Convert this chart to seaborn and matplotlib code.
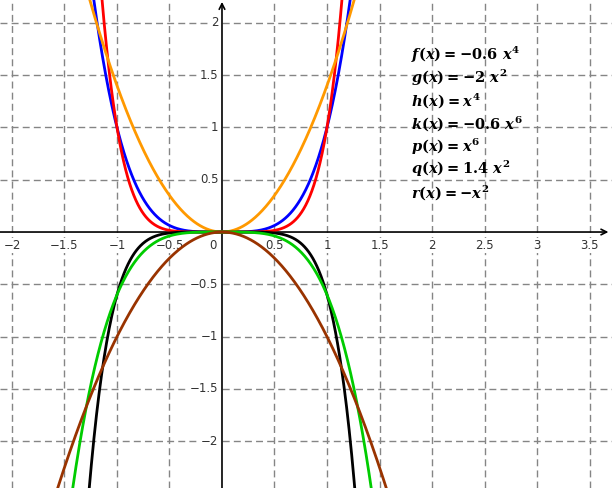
import numpy as np
import pandas as pd
import matplotlib
matplotlib.use("Agg")
import matplotlib.pyplot as plt
import seaborn as sns

# function definitions: coefficient, exponent, colour
names = ["h", "p", "q", "k", "f", "r"]
coefs = [1.0, 1.0, 1.4, -0.6, -0.6, -1.0]
powers = [4, 6, 2, 6, 4, 2]
colors = ["#0000ff", "#ff0000", "#ff9900", "#000000", "#00cc00", "#993300"]

# legend text (g is listed but not drawn)
labels = [
    r"$f(x) = -0.6\ x^4$",
    r"$g(x) = -2\ x^2$",
    r"$h(x) = x^4$",
    r"$k(x) = -0.6\ x^6$",
    r"$p(x) = x^6$",
    r"$q(x) = 1.4\ x^2$",
    r"$r(x) = -x^2$",
]

x_ticks = [-2, -1.5, -1, -0.5, 0.5, 1, 1.5, 2, 2.5, 3, 3.5]
y_ticks = [-2, -1.5, -1, -0.5, 0.5, 1, 1.5, 2]

xmin, xmax = -2.114, 3.714
ymin, ymax = -2.447, 2.218

sns.set_style("white")
plt.rcParams["font.family"] = ["DejaVu Sans"]
plt.rcParams["mathtext.fontset"] = "custom"
plt.rcParams["mathtext.rm"] = "DejaVu Serif:bold"
plt.rcParams["mathtext.it"] = "DejaVu Serif:italic:bold"
plt.rcParams["mathtext.bf"] = "DejaVu Serif:bold"

fig = plt.figure(figsize=(6.12, 4.88), dpi=100)
ax = fig.add_axes([0, 0, 1, 1])

# grid
for v in x_ticks:
    ax.axvline(v, color="#858585", lw=1, ls=(0, (5, 3)), zorder=0)
for v in y_ticks:
    ax.axhline(v, color="#858585", lw=1, ls=(0, (5, 3)), zorder=0)

# axes with arrows
ax.annotate("", xy=(3.68, 0), xytext=(xmin, 0),
            arrowprops=dict(arrowstyle="->", lw=1.2, color="black",
                            shrinkA=0, shrinkB=0), zorder=1)
ax.annotate("", xy=(0, 2.2), xytext=(0, ymin),
            arrowprops=dict(arrowstyle="->", lw=1.2, color="black",
                            shrinkA=0, shrinkB=0), zorder=1)

# tick labels
lab_box = dict(facecolor="white", edgecolor="none", pad=0.5)
for v in x_ticks:
    ax.text(v, -0.068, f"{v:g}".replace("-", "\u2212"), ha="center", va="top",
            fontsize=8.5, color="#333333", bbox=lab_box, zorder=1.5)
for v in y_ticks:
    ax.text(-0.035, v, f"{v:g}".replace("-", "\u2212"), ha="right", va="center",
            fontsize=8.5, color="#333333", bbox=lab_box, zorder=1.5)
ax.text(-0.085, -0.068, "0", ha="center", va="top", fontsize=8.5,
        color="#333333", bbox=lab_box, zorder=1.5)

# curves
xs = np.linspace(xmin, xmax, 1200)
for name, c, n, col in zip(names, coefs, powers, colors):
    df = pd.DataFrame({"x": xs, "y": c * xs ** n})
    sns.lineplot(data=df, x="x", y="y", color=col, lw=2, ax=ax, sort=False,
                 zorder=3)

# function list
for i, t in enumerate(labels):
    ax.text(1.80, 1.69 - i * 0.218, t, ha="left", va="center", fontsize=10.5,
            color="black", zorder=4)

ax.set_xlim(xmin, xmax)
ax.set_ylim(ymin, ymax)
ax.set_xlabel("")
ax.set_ylabel("")
ax.set_xticks([])
ax.set_yticks([])
for s in ax.spines.values():
    s.set_visible(False)

fig.savefig("out.png", dpi=100)
